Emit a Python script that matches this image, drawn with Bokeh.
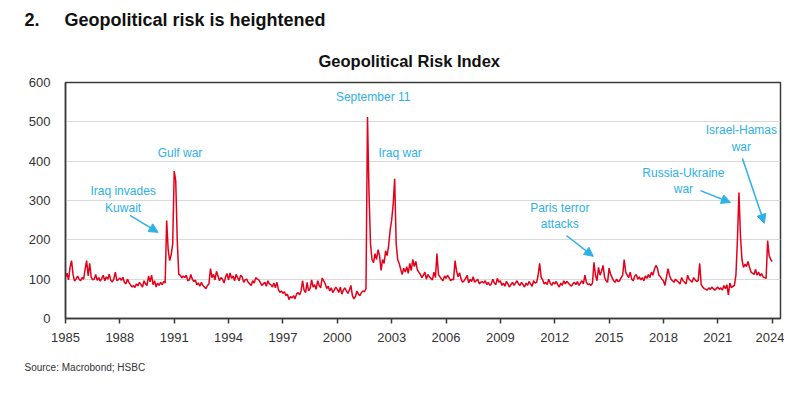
from bokeh.plotting import figure
from bokeh.models import Label, Arrow, NormalHead, FixedTicker, Range1d, ColumnDataSource, Title
from bokeh.embed import file_html
from bokeh.resources import INLINE

# ---- data (monthly Geopolitical Risk Index) ----
start_year = 1985
gpr_1985_1994 = [
    105, 115, 98, 130, 147, 112, 95, 100, 108, 100, 96, 104,
    100, 125, 147, 108, 140, 105, 98, 100, 112, 97, 104, 95,
    102, 110, 96, 106, 100, 113, 97, 93, 100, 118, 96, 99,
    103, 97, 105, 92, 88, 100, 92, 86, 80, 84, 79, 88,
    83, 92, 86, 80, 96, 88, 84, 108, 93, 110, 86, 96,
    80, 90, 84, 92, 86, 94, 90, 249, 175, 147, 162, 190,
    375, 350, 200, 112, 110, 103, 108, 104, 110, 96, 98, 112,
    100, 94, 98, 86, 90, 82, 92, 84, 80, 76, 84, 88,
    127, 104, 112, 98, 120, 108, 96, 104, 100, 90, 106, 114,
    98, 116, 102, 108, 96, 112, 104, 96, 110, 106, 92, 98,
]
gpr_1995_2004 = [
    100, 92, 88, 84, 96, 90, 104, 100, 98, 92, 84, 88,
    92, 82, 96, 88, 86, 80, 90, 78, 92, 74, 66, 70,
    64, 68, 58, 62, 48, 56, 52, 58, 50, 62, 66, 60,
    70, 96, 72, 66, 92, 70, 76, 98, 80, 86, 74, 96,
    84, 78, 103, 96, 88, 76, 82, 70, 78, 66, 72, 80,
    74, 66, 80, 62, 72, 78, 70, 64, 72, 84, 58, 50,
    56, 70, 62, 58, 66, 70, 68, 75, 512, 320, 190, 150,
    142, 165, 150, 175, 160, 122, 150, 140, 172, 160, 185, 225,
    250, 290, 355, 190, 150, 140, 125, 112, 128, 118, 132, 115,
    140, 122, 150, 132, 145, 124, 118, 112, 104, 110, 118, 100,
]
gpr_2005_2014 = [
    112, 106, 102, 98, 118, 104, 165, 112, 106, 100, 96, 108,
    102, 110, 104, 96, 100, 98, 147, 120, 106, 116, 100, 92,
    96, 102, 110, 90, 100, 94, 106, 92, 96, 100, 88, 92,
    94, 90, 96, 86, 92, 84, 88, 100, 90, 86, 102, 92,
    96, 84, 90, 82, 94, 88, 80, 86, 92, 84, 90, 96,
    88, 84, 92, 86, 80, 90, 84, 94, 88, 82, 96, 90,
    92, 110, 140, 105, 98, 88, 92, 86, 100, 90, 84, 92,
    88, 94, 86, 80, 90, 84, 96, 88, 94, 90, 86, 82,
    88, 92, 86, 94, 84, 90, 96, 88, 110, 92, 86, 88,
    84, 90, 143, 110, 96, 130, 110, 120, 135, 105, 96, 92,
]
gpr_2015_2024 = [
    128, 112, 104, 96, 92, 100, 94, 96, 104, 110, 150, 118,
    110, 104, 118, 100, 96, 108, 112, 100, 106, 98, 104, 96,
    108, 102, 112, 104, 118, 110, 125, 135, 128, 110, 106, 100,
    96, 84, 105, 127, 110, 100, 96, 92, 100, 96, 92, 88,
    104, 96, 92, 88, 110, 100, 96, 92, 104, 98, 94, 96,
    140, 86, 80, 76, 74, 72, 78, 74, 80, 76, 72, 76,
    80, 74, 78, 72, 84, 76, 86, 60, 90, 78, 82, 84,
    110, 200, 320, 210, 150, 130, 138, 132, 145, 130, 118, 115,
    112, 125, 110, 118, 108, 114, 106, 104, 102, 198, 160, 150,
    145,
]
gpr = gpr_1985_1994 + gpr_1995_2004 + gpr_2005_2014 + gpr_2015_2024
dates = [start_year + i / 12 for i in range(len(gpr))]

x_ticks = [1985, 1988, 1991, 1994, 1997, 2000, 2003, 2006, 2009, 2012, 2015, 2018, 2021, 2024]
y_ticks = [0, 100, 200, 300, 400, 500, 600]

# annotations: (text, x, y)
event_labels = [
    ("September 11", 2001.98, 562),
    ("Iraq war", 2003.47, 420),
    ("Gulf war", 1991.32, 420),
    ("Iraq invades", 1988.18, 323),
    ("Kuwait", 1988.18, 282),
    ("Paris terror", 2012.28, 280),
    ("attacks", 2012.28, 239),
    ("Russia-Ukraine", 2019.10, 371),
    ("war", 2019.10, 330),
    ("Israel-Hamas", 2022.30, 478),
    ("war", 2022.30, 435),
]
event_arrows = [
    (1988.56, 262, 1990.11, 219),
    (2012.64, 211, 2014.13, 158),
    (2020.04, 325, 2021.70, 295),
    (2022.36, 407, 2023.57, 242),
]

FONT = "Liberation Sans"
RED = "#E2001A"
BLUE = "#2EB0E8"
DARK = "#3a3a3a"

p = figure(width=784, height=387, output_backend="svg", toolbar_location=None,
           x_range=Range1d(1985, 2024.46), y_range=Range1d(0, 600),
           min_border_left=65, min_border_right=4, min_border_top=10, min_border_bottom=10)
p.background_fill_color = "white"
p.border_fill_color = "white"
p.outline_line_color = DARK
p.outline_line_width = 1.5

src = ColumnDataSource(data=dict(x=dates, y=gpr))
p.line("x", "y", source=src, line_color=RED, line_width=1.5)

# axes
p.xaxis.ticker = FixedTicker(ticks=x_ticks)
p.yaxis.ticker = FixedTicker(ticks=y_ticks)
p.xaxis.minor_tick_line_color = None
p.yaxis.minor_tick_line_color = None
p.xaxis.major_tick_out = 5
p.xaxis.major_tick_in = 0
p.xaxis.major_tick_line_color = DARK
p.xaxis.major_tick_line_width = 1.5
p.yaxis.major_tick_out = 0
p.yaxis.major_tick_in = 0
p.xaxis.axis_line_color = DARK
p.yaxis.axis_line_color = DARK
p.xaxis.axis_line_width = 1.5
p.yaxis.axis_line_width = 1.5
for ax in (p.xaxis, p.yaxis):
    ax.major_label_text_font = FONT
    ax.major_label_text_font_size = "13px"
    ax.major_label_text_color = "#333333"
p.xaxis.major_label_standoff = 9
p.yaxis.major_label_standoff = 15

p.xgrid.grid_line_color = None
p.ygrid.grid_line_color = "#d9d9d9"
p.ygrid.grid_line_width = 1

# heading (outermost) and chart title
p.title.text = "2.\u00a0\u00a0\u00a0\u00a0\u00a0Geopolitical risk is heightened"
p.title.align = "left"
p.title.offset = -41
p.title.text_font = FONT
p.title.text_font_style = "bold"
p.title.text_font_size = "18px"
p.title.text_color = "#111111"
p.title.standoff = 15

p.add_layout(Title(text="Geopolitical Risk Index", align="left", offset=253,
                   text_font=FONT, text_font_style="bold", text_font_size="16.5px",
                   text_color="#111111", standoff=25), "above")

p.add_layout(Title(text="Source: Macrobond; HSBC", align="left", offset=-41,
                   text_font=FONT, text_font_style="normal", text_font_size="10px",
                   text_color="#333333", standoff=30), "below")

for txt, x, y in event_labels:
    p.add_layout(Label(x=x, y=y, text=txt, text_font=FONT, text_font_size="12px",
                       text_color=BLUE, text_align="center", text_baseline="middle"))

for xs, ys, xe, ye in event_arrows:
    p.add_layout(Arrow(x_start=xs, y_start=ys, x_end=xe, y_end=ye,
                       line_color=BLUE, line_width=1.5,
                       end=NormalHead(size=9, fill_color=BLUE, line_color=BLUE)))

open("out.html", "w").write(file_html(p, INLINE))
